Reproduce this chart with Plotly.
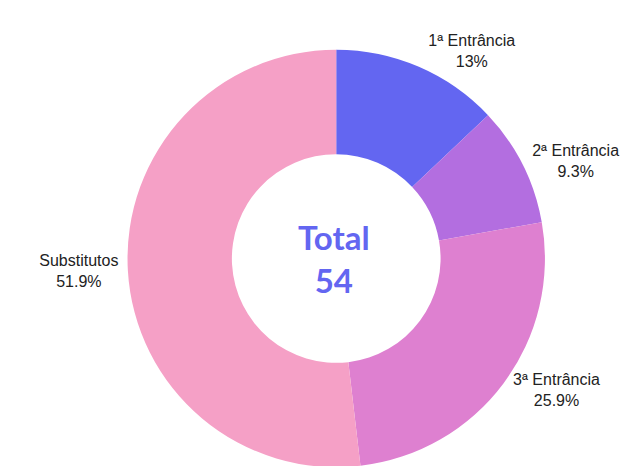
import plotly.graph_objects as go

categorias = ["1ª Entrância", "2ª Entrância", "3ª Entrância", "Substitutos"]
quantidades = [7, 5, 14, 28]
cores = ["#6366f1", "#b36ee0", "#de80d0", "#f5a0c6"]
total = sum(quantidades)


def fmt_pct(v):
    p = round(100 * v / total, 1)
    return f"{p:g}%"


rotulos_pct = [fmt_pct(v) for v in quantidades]

fig = go.Figure(go.Pie(
    labels=categorias,
    values=quantidades,
    text=rotulos_pct,
    texttemplate="%{label}<br>%{text}",
    hole=0.5,
    sort=False,
    direction="clockwise",
    rotation=0,
    marker=dict(colors=cores, line=dict(width=0)),
    textposition="outside",
    textfont=dict(family="Liberation Sans, Arial", size=16, color="#222"),
    showlegend=False,
    domain=dict(x=[0.022, 0.986], y=[0, 1]),
))

fig.add_annotation(
    text=f"<b>Total<br>{total}</b>",
    x=0.498, y=0.5, xref="paper", yref="paper",
    showarrow=False,
    font=dict(family="Lato", size=33, color="#6366f1"),
)

fig.update_layout(
    width=643, height=466,
    margin=dict(l=0, r=0, t=40, b=0),
    paper_bgcolor="white",
    plot_bgcolor="white",
)

fig.write_html("out.html")
